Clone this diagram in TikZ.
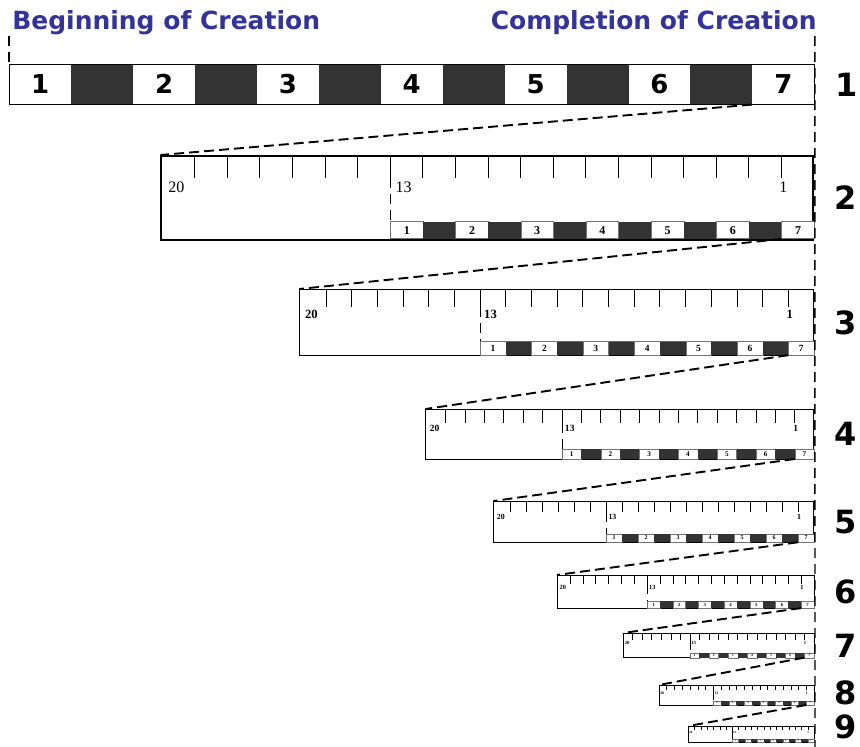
\documentclass[tikz,border=0pt]{standalone}
\usepackage{fontspec}
\setmainfont{DejaVu Sans}
\newfontfamily\rulefont{Liberation Serif}
\usepackage{xcolor}
\usepackage{tikz}
\usetikzlibrary{calc}
\usetikzlibrary{positioning}

\definecolor{headblue}{RGB}{51,51,153}
\definecolor{cellgray}{RGB}{51,51,51}
\def\tickw{32.6}

% one magnified ruler: name, top y, scale, weight of the tick labels
\newcommand{\ruler}[4]{%
  \begin{scope}[shift={(814,#2)},scale=#3,transform shape]
    \node[rulerbox,line width=#3*1.6pt] (#1) at (0,0) {};
    \foreach \t in {1,...,19}
      \draw[line width=#3*1pt] ({-\t*\tickw},0) -- ++(0,23);
    \draw[guide,line width=#3*1pt] ({-13*\tickw},23) -- ({-13*\tickw},67);
    \draw[black!60,line width=#3*0.8pt] ({-13*\tickw},67) -- (0,67);
    \foreach \c in {1,...,13}{
      \pgfmathtruncatemacro\n{(\c+1)/2}
      \ifodd\c
        \node[smallwhite,line width=#3*0.6pt] (#1-\n) at ({-(14-\c)*\tickw},84) {\n};
      \else
        \node[smalldark] (#1-b\c) at ({-(14-\c)*\tickw},84) {};
      \fi}
    \node[ticklab,anchor=north west] (#1-l20) at ({-20*\tickw+1},26) {#4 20};
    \node[ticklab,anchor=north west] (#1-l13) at ({-13*\tickw},26) {#4 13};
    \node[ticklab,anchor=north] (#1-l1) at ({-\tickw},26) {#4 1};
  \end{scope}}

\begin{document}
\begin{tikzpicture}[x=1pt,y=-1pt,semithick]
  \tikzstyle{head}=[inner sep=0pt,text=headblue,font=\bfseries\fontsize{25}{25}\selectfont]
  \tikzstyle{bigwhite}=[fill=white,inner sep=0pt,anchor=north west,minimum width=61.92pt,minimum height=40pt,font=\bfseries\fontsize{26}{26}\selectfont]
  \tikzstyle{bigdark}=[fill=cellgray,inner sep=0pt,anchor=north west,minimum width=61.92pt,minimum height=40pt]
  \tikzstyle{barframe}=[draw,thick,inner sep=0pt,anchor=north west,minimum width=805pt,minimum height=40pt]
  \tikzstyle{rulerbox}=[draw,inner sep=0pt,anchor=north east,minimum width=652pt,minimum height=84pt]
  \tikzstyle{smallwhite}=[draw=black!55,fill=white,inner sep=0pt,anchor=south west,minimum width=\tickw pt,minimum height=17pt,font=\rulefont\bfseries\fontsize{12}{12}\selectfont]
  \tikzstyle{smalldark}=[fill=cellgray,inner sep=0pt,anchor=south west,minimum width=\tickw pt,minimum height=17pt]
  \tikzstyle{ticklab}=[inner sep=1pt,font=\rulefont\fontsize{16}{16}\selectfont]
  \tikzstyle{rownum}=[inner sep=0pt,font=\bfseries\fontsize{32}{32}\selectfont]
  \tikzstyle{guide}=[dashed,dash pattern=on 10pt off 6pt,line width=1.4pt]
  \tikzstyle{zoomline}=[dashed,dash pattern=on 10pt off 5pt,line width=1.9pt]

  \useasboundingbox (0,0) rectangle (860,747);

  \node[head,anchor=west] (begin) at (12,23) {Beginning of Creation};
  \node[head,anchor=east] (compl) at (817,23) {Completion of Creation};

  % the seven days
  \foreach \c in {1,...,13}{
    \pgfmathtruncatemacro\n{(\c+1)/2}
    \ifodd\c
      \node[bigwhite] (L1-\n) at ({9+(\c-1)*61.92},64) {\n};
    \else
      \node[bigdark] (L1-b\c) at ({9+(\c-1)*61.92},64) {};
    \fi}
  \node[barframe] (L1) at (9,64) {};

  \ruler{R2}{155}{1}{\mdseries}
  \ruler{R3}{289}{0.788}{\bfseries}
  \ruler{R4}{409}{0.595}{\bfseries}
  \ruler{R5}{501}{0.491}{\bfseries}
  \ruler{R6}{575}{0.394}{\bfseries}
  \ruler{R7}{633}{0.293}{\bfseries}
  \ruler{R8}{685}{0.238}{\bfseries}
  \ruler{R9}{726}{0.193}{\bfseries}

  \coordinate (rtop) at ([yshift=28pt]L1.north east);
  \coordinate (rbot) at (815,747);
  \draw[guide] ([yshift=28pt]L1.north west) -- (L1.north west);
  \draw[guide] (rtop) -- (rbot);

  \path[zoomline]
    (L1-7.south west) edge (R2.north west)
    (R2-7.south west) edge (R3.north west)
    (R3-7.south west) edge (R4.north west)
    (R4-7.south west) edge (R5.north west)
    (R5-7.south west) edge (R6.north west)
    (R6-7.south west) edge (R7.north west)
    (R7-7.south west) edge (R8.north west)
    (R8-7.south west) edge (R9.north west);

  \node[rownum] (n1) at ([xshift=32pt]L1.east) {1};
  \node[rownum] (n2) at ([xshift=32pt]R2.east) {2};
  \node[rownum] (n3) at ([xshift=32pt]R3.east) {3};
  \node[rownum] (n4) at ([xshift=32pt]R4.east) {4};
  \node[rownum] (n5) at ([xshift=32pt]R5.east) {5};
  \node[rownum] (n6) at ([xshift=32pt]R6.east) {6};
  \node[rownum] (n7) at ([xshift=32pt]R7.east) {7};
  \node[rownum] (n8) at ([xshift=32pt,yshift=2pt]R8.east) {8};
  \node[rownum] (n9) at ([xshift=32pt,yshift=7pt]R9.east) {9};
\end{tikzpicture}
\end{document}
